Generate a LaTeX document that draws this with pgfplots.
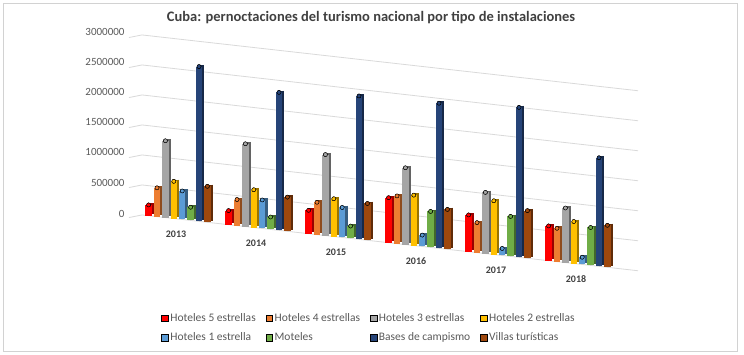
\documentclass[border=0pt]{standalone}
\usepackage{pgfplots}
\pgfplotsset{compat=1.18}
\usepackage{pgfplotstable}
\usepackage{fontspec}
\setmainfont{Carlito}
\definecolor{cA}{HTML}{FF0000}
\definecolor{cB}{HTML}{ED7D31}
\definecolor{cC}{HTML}{A5A5A5}
\definecolor{cD}{HTML}{FFC000}
\definecolor{cE}{HTML}{5B9BD5}
\definecolor{cF}{HTML}{70AD47}
\definecolor{cG}{HTML}{264478}
\definecolor{cH}{HTML}{9E480E}
\definecolor{tit}{HTML}{404040}
\definecolor{tick}{HTML}{595959}
\definecolor{gridc}{HTML}{D9D9D9}
\pgfplotstableread{
x h5 h4 h3 h2 h1 mot camp vil
0 180000 480000 1280000 620000 475000 220000 2580000 600000
1 235000 435000 1380000 630000 475000 207000 2300000 570000
2 390000 540000 1350000 630000 500000 206000 2390000 614000
3 750000 795000 1280000 840000 190000 600000 2420000 665000
4 613000 500000 1020000 896000 117000 667000 2500000 795000
5 580000 556000 910000 700000 121000 632000 1810000 700000
}\datos
\pgfplotsset{sqlegend/.style={legend image code/.code={\fill[##1] (0pt,-3pt) rectangle (6.5pt,3.5pt);}}}
\newcommand\serie[3]{%
  \addplot[forget plot, only marks, mark=none, mark options={draw=none,fill=none},
    error bars/.cd, y dir=minus, y fixed relative=1, error mark=none,
    error mark options={draw=none,fill=none},
    error bar style={draw=#1!60!black, line width=6.5pt, line cap=butt, xshift=2.2pt, yshift=1.8pt}]
    table[x expr=\coordindex+#3, y=#2]{\datos};
  \addplot[fill=#1, only marks, mark=none, mark options={draw=none,fill=none}, sqlegend,
    error bars/.cd, y dir=minus, y fixed relative=1, error mark=none,
    error mark options={draw=none,fill=none},
    error bar style={draw=#1, line width=6.5pt, line cap=butt}]
    table[x expr=\coordindex+#3, y=#2]{\datos};
}
\begin{document}
\begin{tikzpicture}
\path[use as bounding box] (0pt,0pt) rectangle (744pt,355pt);
\draw[gray!35] (3pt,4pt) rectangle (737pt,352pt);
\node[font=\bfseries\fontsize{14.5}{16}\selectfont, text=tit] at (371pt,337pt)
  {Cuba: pernoctaciones del turismo nacional por tipo de instalaciones};
\begin{axis}[
  at={(178pt,136pt)}, anchor=origin,
  x={(80pt,-9pt)}, y={(0pt,4sp)},
  xmin=-0.45, xmax=5.75, ymin=0, ymax=3000000,
  clip=false,
  axis line style={draw=none},
  major tick length=0pt,
  ymajorgrids, grid style={draw=gridc, line width=0.8pt},
  ytick={0,500000,...,3000000},
  scaled y ticks=false,
  yticklabel style={/pgf/number format/fixed, /pgf/number format/1000 sep={},
    /pgf/number format/assume math mode=true,
    font=\fontsize{11}{13}\selectfont, text=tick, xshift=-14pt},
  xtick={0,1,2,3,4,5},
  xticklabels={2013,2014,2015,2016,2017,2018},
  xticklabel style={font=\bfseries\fontsize{10}{12}\selectfont, text=tit, xshift=-2pt, yshift=-8pt},
  legend columns=4,
  legend cell align=left,
  legend style={draw=none, fill=none, at={(axis cs:0,0)}, anchor=center, xshift=191pt, yshift=-109pt,
    font=\fontsize{11.5}{13}\selectfont, text=tick, row sep=6pt,
    /tikz/every even column/.append style={column sep=8pt}},
]
\pgfplotsinvokeforeach{0,500000,1000000,1500000,2000000,2500000,3000000}{
  \draw[gridc, line width=0.8pt] (axis cs:-0.45,#1) -- ++(-13pt,-2.6pt);
}
\serie{cA}{h5}{-0.3675}
\serie{cB}{h4}{-0.2625}
\serie{cC}{h3}{-0.1575}
\serie{cD}{h2}{-0.0525}
\serie{cE}{h1}{0.0525}
\serie{cF}{mot}{0.1575}
\serie{cG}{camp}{0.2625}
\serie{cH}{vil}{0.3675}
\legend{Hoteles 5 estrellas, Hoteles 4 estrellas, Hoteles 3 estrellas, Hoteles 2 estrellas,
  Hoteles 1 estrella, Moteles, Bases de campismo, Villas turísticas}
\end{axis}
\end{tikzpicture}
\end{document}
